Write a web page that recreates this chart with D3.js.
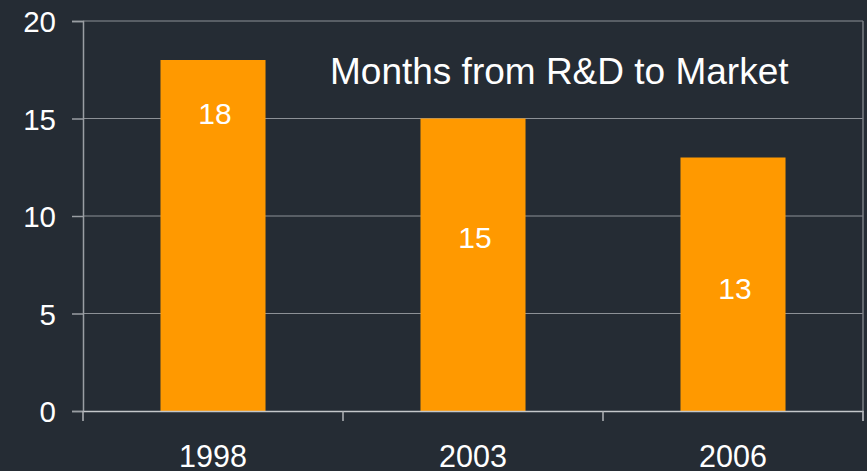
<!DOCTYPE html>
<html>
<head>
<meta charset="utf-8">
<script src="https://cdn.jsdelivr.net/npm/d3@7"></script>
<style>
  html, body { margin: 0; padding: 0; background: #252c34; }
  svg { display: block; font-family: "Liberation Sans", Arial, sans-serif; }
</style>
</head>
<body>
<div id="chart_area"></div>
<script>
var years = ["1998", "2003", "2006"];
var months = [18, 15, 13];
// where the value labels sit inside each bar (in months, baseline)
var labelAt = [14.7, 8.35, 5.75];
var yTicks = [0, 5, 10, 15, 20];
var title = "Months from R&D to Market";

var width = 867, height = 471;
var margin = { top: 21, right: 4, bottom: 60, left: 83 };

var svg = d3.select("#chart_area")
    .append("svg")
    .attr("width", width)
    .attr("height", height);

svg.append("rect")
    .attr("width", width)
    .attr("height", height)
    .attr("fill", "#252c34");

var x = d3.scaleBand()
    .domain(years)
    .range([margin.left, width - margin.right])
    .padding(0);

var y = d3.scaleLinear()
    .domain([0, 20])
    .range([height - margin.bottom, margin.top]);

var barW = x.bandwidth() * 0.404;

// gridlines
svg.append("g")
    .selectAll("line")
    .data(yTicks.filter(function (d) { return d > 0; }))
    .enter().append("line")
    .attr("x1", margin.left)
    .attr("x2", width - margin.right)
    .attr("y1", function (d) { return y(d); })
    .attr("y2", function (d) { return y(d); })
    .style("stroke", "#8d9196")
    .style("stroke-width", 1);

// right border
svg.append("line")
    .attr("x1", width - margin.right)
    .attr("x2", width - margin.right)
    .attr("y1", y(20))
    .attr("y2", y(0) + 10)
    .style("stroke", "#7a7e83")
    .style("stroke-width", 1.5);

// bars
svg.append("g")
    .selectAll("rect")
    .data(months)
    .enter().append("rect")
    .attr("x", function (d, i) { return x(years[i]) + (x.bandwidth() - barW) / 2; })
    .attr("width", barW)
    .attr("y", function (d) { return y(d); })
    .attr("height", function (d) { return y(0) - y(d); })
    .attr("fill", "#ff9900");

// value labels
svg.append("g")
    .selectAll("text")
    .data(months)
    .enter().append("text")
    .attr("x", function (d, i) { return x(years[i]) + x.bandwidth() / 2 + 2; })
    .attr("y", function (d, i) { return y(labelAt[i]); })
    .attr("text-anchor", "middle")
    .style("font-size", "30px")
    .style("fill", "#ffffff")
    .text(function (d) { return d; });

// y axis
var yAxis = svg.append("g")
    .attr("transform", "translate(" + margin.left + ",0)")
    .call(d3.axisLeft(y).tickValues(yTicks).tickSize(11).tickPadding(16));
yAxis.select(".domain").style("stroke", "#9a9ea3").style("stroke-width", 1.5);
yAxis.selectAll(".tick line").style("stroke", "#9a9ea3").style("stroke-width", 1.5);
yAxis.selectAll("text")
    .style("font-size", "29.5px")
    .style("fill", "#ffffff")
    .attr("dy", "0.36em")
    .attr("font-family", null);

// x axis
var xAxis = svg.append("g")
    .attr("transform", "translate(0," + y(0) + ")")
    .call(d3.axisBottom(x).tickSize(0).tickSizeOuter(0).tickPadding(34));
xAxis.select(".domain").style("stroke", "#c4c7ca").style("stroke-width", 1.5);
xAxis.selectAll("text")
    .style("font-size", "30.5px")
    .style("fill", "#ffffff")
    .attr("dy", "0.71em")
    .attr("font-family", null);

// category separators
var seps = [x.range()[0]].concat(years.map(function (d) { return x(d) + x.bandwidth(); }));
svg.append("g")
    .selectAll("line")
    .data(seps)
    .enter().append("line")
    .attr("x1", function (d) { return d; })
    .attr("x2", function (d) { return d; })
    .attr("y1", y(0))
    .attr("y2", y(0) + 10)
    .style("stroke", "#b0b3b7")
    .style("stroke-width", 1.5);

svg.append("text")
    .attr("x", 330)
    .attr("y", 84)
    .style("font-size", "37px")
    .style("fill", "#ffffff")
    .text(title);
</script>
</body>
</html>
